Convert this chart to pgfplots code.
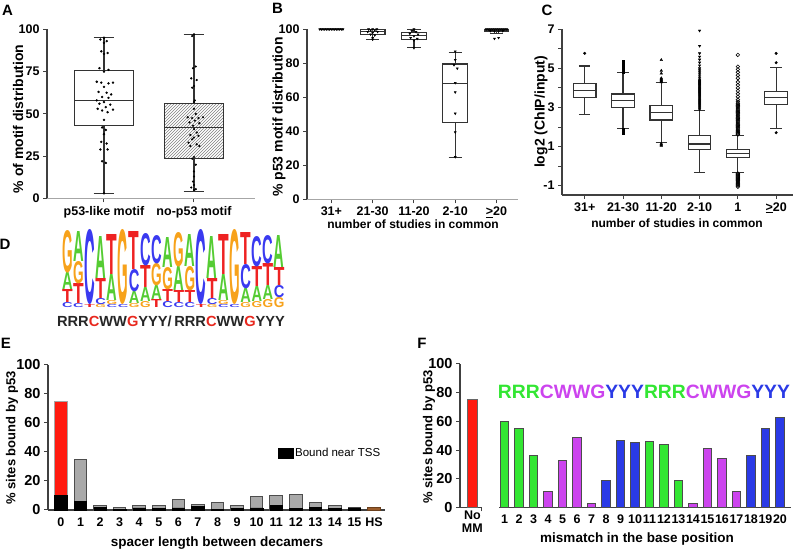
\documentclass[border=0pt]{standalone}
\usepackage{pgfplots}
\pgfplotsset{compat=1.18}
\usepgfplotslibrary{statistics}
\usetikzlibrary{patterns}
\usepackage{graphicx}
\usepackage{fontspec}
\setmainfont{Liberation Sans}
\setsansfont{Liberation Sans}

\definecolor{lgA}{HTML}{55CC33}
\definecolor{lgC}{HTML}{3A3AF0}
\definecolor{lgG}{HTML}{F7A21B}
\definecolor{lgT}{HTML}{EE2222}
\definecolor{fgreen}{HTML}{33E633}
\definecolor{fviolet}{HTML}{CC44EE}
\definecolor{fblue}{HTML}{2A3AE6}
\definecolor{redbar}{HTML}{FF1A0F}
\definecolor{brownbar}{HTML}{9A5B2A}
\definecolor{barg}{HTML}{A9A9A9}
\definecolor{bard}{HTML}{4D4D4D}
\definecolor{motred}{HTML}{E8281E}

\pgfplotsset{
  pan/.style={scale only axis, axis lines*=left,
    axis line style={black!75, line width=1.1pt},
    tick style={black!75, line width=1pt}, major tick length=4pt, tick align=outside,
    tick label style={font=\bfseries\fontsize{12.5}{14}\selectfont},
    /pgf/number format/assume math mode=true, clip=false},
  bx/.style={draw=black!80, line width=1.1pt, solid, boxplot/draw direction=y},
}

\newdimen\logoy
\newcommand\logocol[2]{%
  \global\logoy=243pt\relax
  \foreach \lettr/\hgt/\clr in {#2}{%
    \node[inner sep=0pt, outer sep=0pt, anchor=south west] at ({62pt+(#1-1)*11.15pt}, \logoy) {\resizebox{10.6pt}{\hgt pt}{\textcolor{\clr}{\bfseries\lettr}}};%
    \global\advance\logoy by \hgt pt\relax
  }%
}

\begin{document}
\begin{tikzpicture}[x=1pt,y=1pt]
\useasboundingbox (0pt,0pt) rectangle (795pt,551pt);

% panel letters
\begin{scope}[every node/.style={font=\bfseries\fontsize{15}{17}\selectfont}]
\node at (7.5pt,541pt) {A};
\node at (277.5pt,542.5pt) {B};
\node at (547pt,541pt) {C};
\node at (5pt,307pt) {D};
\node at (6pt,208pt) {E};
\node at (422pt,208pt) {F};
\end{scope}

% axis titles
\begin{scope}[every node/.style={font=\bfseries\fontsize{14}{16}\selectfont}]
\node[rotate=90] at (18pt,432pt) {\% of motif distribution};
\node[rotate=90] at (279pt,434pt) {\% p53 motif distribution};
\node[rotate=90] at (541pt,439pt) {log2 (ChIP/input)};
\node[rotate=90, font=\bfseries\fontsize{13}{15}\selectfont] at (12pt,113pt) {\% sites bound by p53};
\node[rotate=90, font=\bfseries\fontsize{13}{15}\selectfont] at (429pt,114pt) {\% sites bound by p53};
\node[font=\bfseries\fontsize{12}{14}\selectfont] at (413pt,327pt) {number of studies in common};
\node[font=\bfseries\fontsize{12}{14}\selectfont] at (677pt,328pt) {number of studies in common};
\node[font=\bfseries\fontsize{13.5}{15}\selectfont] at (217pt,8pt) {spacer length between decamers};
\node[font=\bfseries\fontsize{13.5}{15}\selectfont] at (637pt,12pt) {mismatch in the base position};
\end{scope}

% ---------------- Panel A
\begin{axis}[pan, at={(47pt,352.5pt)}, anchor=south west, width=208pt, height=169.2pt,
  xmin=0.367, xmax=2.678, ymin=0, ymax=100, ytick={0,25,50,75,100},
  xtick={1,2}, xticklabels={p53-like motif, no-p53 motif},
  x axis line style={black!35}]
\addplot[bx, boxplot prepared={lower whisker=2.8, lower quartile=43.4, median=58.1, upper quartile=75.6, upper whisker=95.1, draw position=1, box extend=0.655, whisker extend=0.23}] coordinates {};
\addplot[bx, boxplot prepared={lower whisker=4.2, lower quartile=23.9, median=41.8, upper quartile=55.9, upper whisker=96.9, draw position=2, box extend=0.66, whisker extend=0.23},
  boxplot/every box/.append style={pattern=north east lines, pattern color=black!50}] coordinates {};
\addplot[only marks, mark=*, mark size=1pt, black] coordinates {
(1.00,95) (0.96,94) (1.03,93) (1.00,92) (0.97,87) (1.04,86) (1.00,85.5) (0.95,77) (1.05,76) (1.00,75)
(0.92,69) (0.97,68.5) (1.05,68) (1.10,68.5) (1.00,66) (0.94,63) (1.03,62.5) (1.08,61.5) (0.98,60) (1.05,59.5)
(0.92,58) (1.00,57) (0.95,56) (1.07,55.5) (1.02,54) (0.93,53) (1.10,52.5) (0.98,52) (1.04,51) (1.00,46.5)
(0.98,42) (1.02,40.5) (1.00,38) (0.97,33.5) (1.03,32.5) (0.96,29) (1.04,29) (0.98,22) (1.02,21) (1.00,3)};
\addplot[only marks, mark=*, mark size=0.9pt, black] coordinates {
(2.00,97) (1.98,96) (2.02,78) (1.99,77) (1.97,71) (2.03,70) (2.00,66.5) (1.98,65.5) (2.01,58) (2.00,57)
(2.00,53) (2.02,50) (1.93,48) (1.98,47.5) (2.05,47.5) (2.10,48) (2.01,46) (1.95,45) (2.06,44.5) (1.99,43)
(2.00,41) (2.03,39) (1.96,37.5) (2.05,37) (2.00,36) (1.98,35) (1.94,33) (2.03,32) (1.96,31) (2.06,31)
(2.00,24.5) (1.98,23.5) (2.02,20) (2.00,16) (2.00,13) (1.99,10) (2.00,8) (1.97,6.5) (2.02,5.5) (2.00,5)};
\end{axis}

% ---------------- Panel B
\begin{axis}[pan, at={(307pt,351.5pt)}, anchor=south west, width=211pt, height=170.2pt,
  xmin=0.41, xmax=5.52, ymin=0, ymax=100, ytick={0,20,40,60,80,100},
  xtick={1,2,3,4,5}, xticklabels={31+,21-30,11-20,2-10,\underline{>}20},
  x axis line style={black!35}]
\addplot[bx, boxplot prepared={lower whisker=100, lower quartile=100, median=100, upper quartile=100, upper whisker=100, draw position=1, box extend=0.6, whisker extend=0.3}] coordinates {};
\addplot[bx, boxplot prepared={lower whisker=94, lower quartile=97.2, median=98.5, upper quartile=99.8, upper whisker=100, draw position=2, box extend=0.6, whisker extend=0.32}] coordinates {};
\addplot[bx, boxplot prepared={lower whisker=89.2, lower quartile=94.1, median=96.2, upper quartile=98.2, upper whisker=100, draw position=3, box extend=0.6, whisker extend=0.32}] coordinates {};
\addplot[bx, boxplot prepared={lower whisker=24.9, lower quartile=45.2, median=68.2, upper quartile=79.6, upper whisker=86.6, draw position=4, box extend=0.6, whisker extend=0.32}] coordinates {};
\addplot[bx, boxplot prepared={lower whisker=97.6, lower quartile=98.6, median=99.5, upper quartile=100, upper whisker=100, draw position=5, box extend=0.6, whisker extend=0.32}] coordinates {};
\addplot[only marks, mark=triangle*, mark options={rotate=180}, mark size=1.2pt, black] coordinates {
(0.72,100) (0.76,100) (0.80,100) (0.84,100) (0.88,100) (0.92,100) (0.96,100) (1.00,100) (1.04,100) (1.08,100) (1.12,100) (1.16,100) (1.20,100) (1.24,100) (1.28,100)
(2.00,100) (1.90,100) (2.10,100) (1.95,99.5) (2.05,99.5) (1.88,98.5) (2.12,98.5) (2.00,98) (1.95,97) (2.05,96.5) (2.00,95) (2.00,94)
(3.00,100) (2.95,99) (3.05,98.5) (2.90,97.5) (3.10,97) (3.00,96) (2.92,95) (3.08,94.5) (3.00,93.5) (3.00,89)
(4.00,87) (4.00,82) (3.97,79) (4.05,77) (4.00,68.5) (4.00,63) (4.00,50.5) (4.00,39.5) (4.00,25)
(4.75,100) (4.80,100) (4.85,100) (4.90,100) (4.95,100) (5.00,100) (5.05,100) (5.10,100) (5.15,100) (5.20,100) (5.25,100)
(4.85,99) (4.95,98.8) (5.05,98.8) (5.15,99) (4.95,94.5) (5.05,95)};
\end{axis}

% ---------------- Panel C
\begin{axis}[pan, at={(562pt,356pt)}, anchor=south west, width=231pt, height=165.7pt,
  xmin=0.407, xmax=6.44, ymin=-1.476, ymax=7,
  ytick={-1,0,1,2,3,4,5,6,7}, yticklabels={-1,,1,,3,,5,,7},
  xtick={1,2,3,4,5,6}, xticklabels={31+,21-30,11-20,2-10,1,\underline{>}20}]
\addplot[bx, boxplot prepared={lower whisker=2.62, lower quartile=3.5, median=3.86, upper quartile=4.24, upper whisker=5.12, draw position=1, box extend=0.59, whisker extend=0.3}] coordinates {};
\addplot[bx, boxplot prepared={lower whisker=1.94, lower quartile=2.99, median=3.38, upper quartile=3.69, upper whisker=4.78, draw position=2, box extend=0.59, whisker extend=0.3}] coordinates {};
\addplot[bx, boxplot prepared={lower whisker=1.2, lower quartile=2.36, median=2.73, upper quartile=3.08, upper whisker=4.27, draw position=3, box extend=0.59, whisker extend=0.3}] coordinates {};
\addplot[bx, boxplot prepared={lower whisker=-0.33, lower quartile=0.83, median=1.13, upper quartile=1.59, upper whisker=2.84, draw position=4, box extend=0.59, whisker extend=0.3}] coordinates {};
\addplot[bx, boxplot prepared={lower whisker=-0.33, lower quartile=0.43, median=0.66, upper quartile=0.86, upper whisker=1.59, draw position=5, box extend=0.59, whisker extend=0.3}] coordinates {};
\addplot[bx, boxplot prepared={lower whisker=1.94, lower quartile=3.13, median=3.5, upper quartile=3.84, upper whisker=5.04, draw position=6, box extend=0.59, whisker extend=0.3}] coordinates {};
\addplot[only marks, mark=*, mark size=1.3pt, black] coordinates {(1,5.77) (6,5.77) (6,5.29) (6,1.71)};
\addplot[only marks, mark=square*, mark size=1.2pt, black] coordinates {
(2,4.82) (2,4.88) (2,4.94) (2,5.0) (2,5.06) (2,5.12) (2,5.18) (2,5.24) (2,5.3) (2,5.34)
(2,1.9) (2,1.85) (2,1.8) (2,1.75) (2,1.7)};
\addplot[only marks, mark=triangle*, mark size=1.5pt, black] coordinates {
(3,5.43) (3,4.88) (3,4.74) (3,4.5) (3,4.45) (3,4.4) (3,4.35) (3,4.3) (3,1.15) (3,1.1) (3,1.05)};
\addplot[only marks, mark=triangle*, mark options={rotate=180}, mark size=1.4pt, black] coordinates {
(4,6.93) (4,6.15) (4,5.77) (4,5.6) (4,5.45) (4,5.3) (4,5.15) (4,5.0) (4,4.9) (4,4.8) (4,4.7) (4,4.6) (4,4.5) (4,4.42) (4,4.35) (4,4.3)
(4,4.25) (4,4.2) (4,4.15) (4,4.1) (4,4.05) (4,4.0) (4,3.95) (4,3.9) (4,3.85) (4,3.8) (4,3.75) (4,3.7) (4,3.65) (4,3.6) (4,3.55)
(4,3.5) (4,3.45) (4,3.4) (4,3.35) (4,3.3) (4,3.25) (4,3.2) (4,3.15) (4,3.1) (4,3.05) (4,3.0) (4,2.95) (4,2.9)};
\addplot[only marks, mark=o, mark size=1.8pt, black, line width=0.6pt] coordinates {
(5,5.69) (5,5.09) (5,4.95) (5,4.8) (5,4.65) (5,4.5) (5,4.3) (5,4.15) (5,4.0) (5,3.85) (5,3.7) (5,3.55) (5,3.4) (5,3.3)
(5,3.22) (5,3.16) (5,3.1) (5,3.04) (5,2.98) (5,2.92) (5,2.86) (5,2.8) (5,2.74) (5,2.68) (5,2.62) (5,2.56) (5,2.5) (5,2.44)
(5,2.38) (5,2.32) (5,2.26) (5,2.2) (5,2.14) (5,2.08) (5,2.02) (5,1.96) (5,1.9) (5,1.84) (5,1.78) (5,1.72) (5,1.66) (5,1.62)
(5,-0.38) (5,-0.43) (5,-0.48) (5,-0.53) (5,-0.58) (5,-0.63) (5,-0.68) (5,-0.73) (5,-0.78) (5,-0.83) (5,-0.88) (5,-0.93) (5,-0.98) (5,-1.05)};
\end{axis}

% ---------------- Panel D (sequence logo)
\logocol{1}{C/5/lgC, T/13/lgT, A/17/lgA, G/42/lgG}
\logocol{2}{C/4/lgC, T/20/lgT, G/22/lgG, A/30/lgA}
\logocol{3}{T/3/lgT, C/74/lgC}
\logocol{4}{G/3/lgG, C/6/lgC, T/20/lgT, A/42/lgA}
\logocol{5}{C/3/lgC, G/4/lgG, A/26/lgA, T/40/lgT}
\logocol{6}{C/3/lgC, G/74/lgG}
\logocol{7}{G/4/lgG, A/12/lgA, C/22/lgC, T/38/lgT}
\logocol{8}{G/6/lgG, A/14/lgA, T/22/lgT, C/32/lgC}
\logocol{9}{T/8/lgT, A/14/lgA, G/22/lgG, C/28/lgC}
\logocol{10}{C/6/lgC, T/12/lgT, G/22/lgG, A/30/lgA}
\logocol{11}{C/5/lgC, T/12/lgT, A/24/lgA, G/34/lgG}
\logocol{12}{C/5/lgC, T/12/lgT, G/24/lgG, A/32/lgA}
\logocol{13}{T/3/lgT, C/74/lgC}
\logocol{14}{G/3/lgG, C/6/lgC, T/20/lgT, A/42/lgA}
\logocol{15}{C/3/lgC, G/4/lgG, A/26/lgA, T/40/lgT}
\logocol{16}{C/3/lgC, G/74/lgG}
\logocol{17}{G/5/lgG, A/14/lgA, C/24/lgC, T/32/lgT}
\logocol{18}{G/6/lgG, A/15/lgA, T/20/lgT, C/30/lgC}
\logocol{19}{G/8/lgG, A/14/lgA, T/22/lgT, C/28/lgC}
\logocol{20}{G/10/lgG, C/12/lgC, T/18/lgT, A/32/lgA}
\node[inner sep=0pt] at (171pt,229.5pt) {\resizebox{228pt}{!}{\bfseries\color{black!85}RRR\textcolor{motred}{C}WW\textcolor{motred}{G}YYY/\,RRR\textcolor{motred}{C}WW\textcolor{motred}{G}YYY}};

% ---------------- Panel E
\begin{axis}[pan, at={(48pt,41pt)}, anchor=south west, width=337pt, height=145pt,
  xmin=-0.66, xmax=16.56, ymin=0, ymax=100, ytick={0,20,40,60,80,100},
  xtick={0,...,16}, xticklabels={0,1,2,3,4,5,6,7,8,9,10,11,12,13,14,15,HS},
  yticklabel style={font=\bfseries\fontsize{14.5}{16}\selectfont},
  xticklabel style={font=\bfseries\fontsize{12.5}{14}\selectfont},
  x tick style={draw=none},
  legend style={at={(0.672,0.393)}, anchor=west, draw=none, fill=none, font=\fontsize{11.5}{13}\selectfont}]
\addplot[ybar, bar width=12.5pt, bar shift=0pt, fill=redbar, draw=black!35, line width=0.9pt, forget plot] coordinates {(0,75)};
\addplot[ybar, bar width=12.5pt, bar shift=0pt, fill=barg, draw=bard, line width=0.9pt, forget plot] coordinates {
(1,35) (2,3) (3,2) (4,3) (5,3) (6,7) (7,4) (8,5) (9,3) (10,9) (11,10) (12,11) (13,5) (14,3) (15,2)};
\addplot[ybar, bar width=12.5pt, bar shift=0pt, fill=brownbar, draw=brownbar!70!black, line width=0.9pt, forget plot] coordinates {(16,2)};
\addplot[ybar, bar width=12.5pt, bar shift=0pt, fill=black, draw=black, line width=0.5pt,
  legend image code/.code={\fill[black] (0pt,-5pt) rectangle (15pt,5pt);}] coordinates {
(0,10) (1,6) (2,2) (3,0.5) (4,1.5) (5,1) (6,1.5) (7,2.5) (8,0.5) (9,1) (10,1.5) (11,3) (12,1) (13,2) (14,1) (15,1.5)};
\addlegendentry{Bound near TSS}
\end{axis}

% ---------------- Panel F
\begin{axis}[pan, at={(460pt,43.5pt)}, anchor=south west, width=21.7pt, height=143.5pt,
  xmin=-1.2, xmax=0.9, ymin=0, ymax=100, ytick={0,20,40,60,80,100},
  xtick={0.9}, xticklabels={},
  extra x ticks={0}, extra x tick labels={No\\MM},
  extra x tick style={major tick length=0pt, xticklabel style={align=center, font=\bfseries\fontsize{12.5}{13}\selectfont}},
  yticklabel style={font=\bfseries\fontsize{14.5}{16}\selectfont}]
\addplot[ybar, bar width=9.5pt, bar shift=0pt, fill=redbar, draw=black!60, line width=0.9pt] coordinates {(0,75)};
\end{axis}
\begin{axis}[pan, at={(499pt,43.5pt)}, anchor=south west, width=292pt, height=143.5pt,
  xmin=0.62, xmax=20.76, ymin=0, ymax=100, axis y line=none, axis x line*=bottom,
  xtick={1,...,20}, x tick style={draw=none},
  xticklabel style={font=\bfseries\fontsize{12.5}{14}\selectfont}]
\addplot[ybar, bar width=8.5pt, bar shift=0pt, fill=fgreen, draw=black!70, line width=0.9pt] coordinates {
(1,60) (2,55) (3,36) (11,46) (12,44) (13,19)};
\addplot[ybar, bar width=8.5pt, bar shift=0pt, fill=fviolet, draw=black!70, line width=0.9pt] coordinates {
(4,11) (5,33) (6,49) (7,3) (14,3) (15,41) (16,34) (17,11)};
\addplot[ybar, bar width=8.5pt, bar shift=0pt, fill=fblue, draw=black!70, line width=0.9pt] coordinates {
(8,19) (9,47) (10,45) (18,36) (19,55) (20,63)};
\end{axis}
\node[inner sep=0pt] at (644pt,159pt) {\resizebox{292pt}{!}{\bfseries\textcolor{fgreen}{RRR}\textcolor{fviolet}{CWWG}\textcolor{fblue}{YYY}\textcolor{fgreen}{RRR}\textcolor{fviolet}{CWWG}\textcolor{fblue}{YYY}}};

\end{tikzpicture}
\end{document}
